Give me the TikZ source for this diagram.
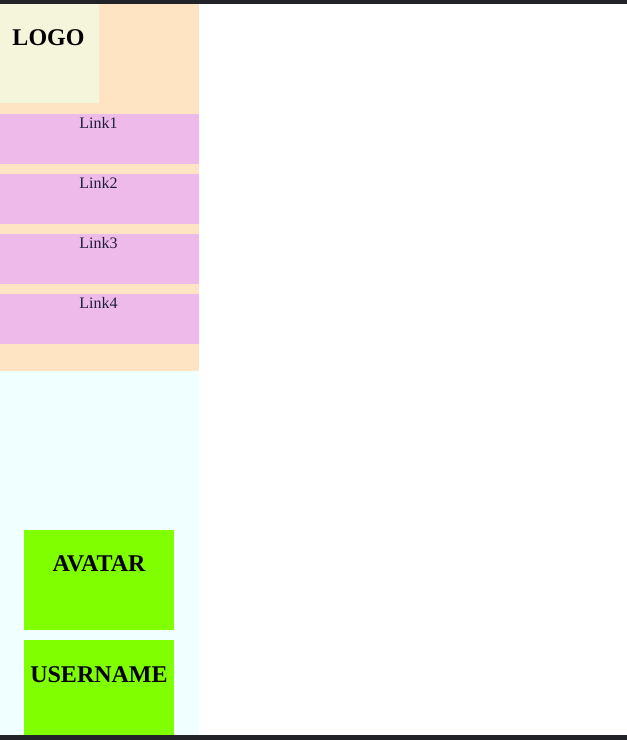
\documentclass[tikz,border=0pt]{standalone}
\usepackage{fontspec}
\setmainfont{Liberation Serif}
\usetikzlibrary{positioning}
\definecolor{barcol}{RGB}{33,35,40}
\definecolor{navcol}{RGB}{255,228,196}
\definecolor{logocol}{RGB}{245,245,220}
\definecolor{linkcol}{RGB}{238,186,234}
\definecolor{sidecol}{RGB}{240,255,255}
\definecolor{boxcol}{RGB}{127,255,0}
\definecolor{linktext}{RGB}{30,30,60}
\tikzset{
  linktxt/.style={anchor=base, text=linktext, inner sep=0pt, font=\fontsize{16}{19}\selectfont},
  bigtxt/.style={anchor=base, inner sep=0pt, font=\fontsize{24}{28}\selectfont\bfseries}
}
\begin{document}
\begin{tikzpicture}[x=1pt,y=-1pt]
\useasboundingbox (0,0) rectangle (627,740);
%bars
\fill[barcol] (0,0) rectangle (627,4);
\fill[barcol] (0,735) rectangle (627,740);
%nav panel
\fill[navcol] (0,4) rectangle (199,371);
\fill[logocol] (0,4) rectangle (99,103);
\node (logo) [bigtxt] at (48.5,45) {LOGO};
\foreach \i in {1,...,4}{
	\fill[linkcol] (0,{114+60*(\i-1)}) rectangle (199,{164+60*(\i-1)});
	\node (link\i) [linktxt] at (98.5,{128+60*(\i-1)}) {Link\i};
}
%side panel
\fill[sidecol] (0,371) rectangle (199,735);
\fill[boxcol] (24,530) rectangle (174,630);
\fill[boxcol] (24,640) rectangle (174,735);
\node (avatar) [bigtxt] at (99,571) {AVATAR};
\node (username) [bigtxt] at (99,682) {USERNAME};
\end{tikzpicture}
\end{document}
